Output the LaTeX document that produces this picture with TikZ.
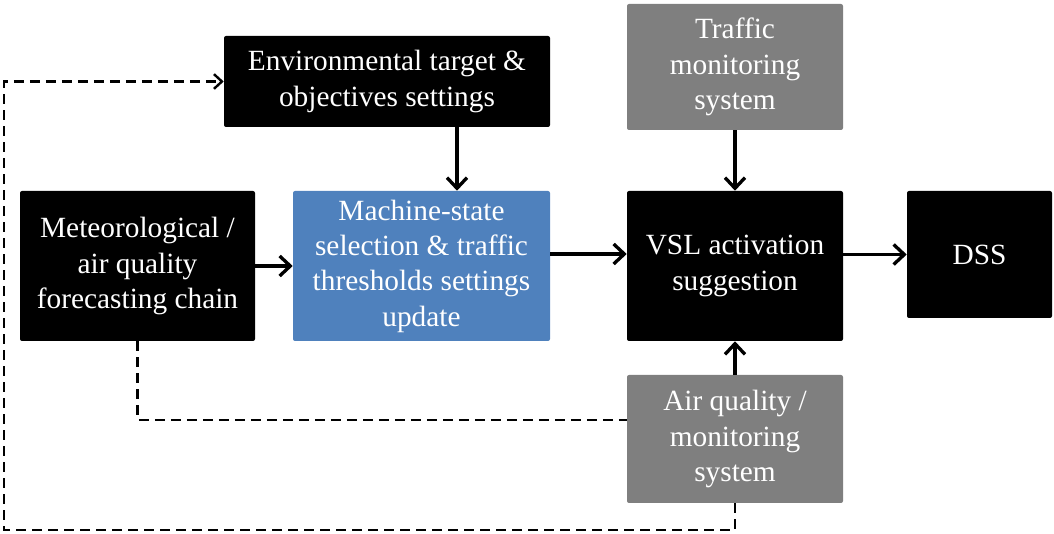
\documentclass[tikz,border=0pt]{standalone}
\usepackage{fontspec}
\setmainfont{Liberation Serif}
\usetikzlibrary{arrows.meta,calc}

\definecolor{boxblack}{HTML}{000000}
\definecolor{boxgray}{HTML}{7F7F7F}
\definecolor{boxblue}{HTML}{4F81BD}

\begin{document}
\begin{tikzpicture}[x=0.75pt,y=-0.75pt,
	every text node part/.style={align=center},
	block/.style={fill=boxblack,text=white,rounded corners=1.5pt,inner sep=2pt,
		font=\fontsize{22}{26.5}\selectfont},
	grayblock/.style={block,fill=boxgray},
	blueblock/.style={block,fill=boxblue},
	flow/.style={line width=2.5pt,-{Straight Barb[length=8pt,width=15pt,line width=2.5pt]}},
	feedback/.style={line width=1.8pt,dash pattern=on 7.5pt off 4.5pt}]

	\useasboundingbox (0,0) rectangle (1054,534);

		% Boxes
        \node[block,minimum width=244.5pt,minimum height=68.25pt] (Env) at (387,81.5) {Environmental target \&\\objectives settings};
        \node[grayblock,minimum width=162pt,minimum height=94.5pt] (Traffic) at (735,67) {Traffic\\monitoring\\system};
        \node[block,minimum width=176.25pt,minimum height=112.5pt] (Met) at (137.5,266) {Meteorological /\\air quality\\forecasting chain};
        \node[blueblock,minimum width=192.75pt,minimum height=112.5pt] (Machine) at (421.5,266) {Machine-state\\selection \& traffic\\thresholds settings\\update};
        \node[block,minimum width=162pt,minimum height=112.5pt] (VSL) at (735,266) {VSL activation\\suggestion};
        \node[block,minimum width=108.75pt,minimum height=95.25pt] (DSS) at (979.5,254.5) {DSS};
        \node[grayblock,minimum width=162pt,minimum height=96pt] (Air) at (735,439) {Air quality /\\monitoring\\system};

		% Helper points
        \coordinate (envdrop) at (457,0);
        \coordinate (loopcorner) at (4,530);

		% Main flow
    	\draw [flow] (Env.south -| envdrop) to (Machine.north -| envdrop);
		\draw [flow] (Met) to (Machine);
		\draw [flow] ([yshift=9pt]Machine.east) to ([yshift=9pt]VSL.west);
		\draw [flow] (VSL.east |- DSS) to (DSS);
		\draw [flow] (Traffic) to (VSL);
		\draw [flow] (Air) to (VSL);

		% Feedback loops
		\draw [feedback] (Met.south) |- ([yshift=14.25pt]Air.west);
		\draw [feedback,-{Straight Barb[length=6pt,width=11pt,line width=1.8pt]}] (Air.south) |- (loopcorner) |- (Env.west);

	\end{tikzpicture}
\end{document}
